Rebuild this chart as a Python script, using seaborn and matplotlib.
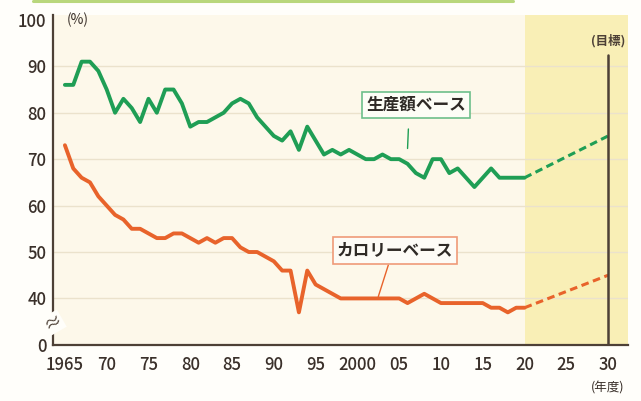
import numpy as np
import pandas as pd
import seaborn as sns
import matplotlib.pyplot as plt

# data (food self-sufficiency ratio, %)
years = list(range(1965, 2021))
calorie = [73, 68, 66, 65, 62, 60, 58, 57, 55, 55,
           54, 53, 53, 54, 54, 53, 52, 53, 52, 53,
           53, 51, 50, 50, 49, 48, 46, 46, 37, 46,
           43, 42, 41, 40, 40, 40, 40, 40, 40, 40,
           40, 39, 40, 41, 40, 39, 39, 39, 39, 39,
           39, 38, 38, 37, 38, 38]
production = [86, 86, 91, 91, 89, 85, 80, 83, 81, 78,
              83, 80, 85, 85, 82, 77, 78, 78, 79, 80,
              82, 83, 82, 79, 77, 75, 74, 76, 72, 77,
              74, 71, 72, 71, 72, 71, 70, 70, 71, 70,
              70, 69, 67, 66, 70, 70, 67, 68, 66, 64,
              66, 68, 66, 66, 66, 66]
target_years = [2020, 2030]
calorie_target = [38, 45]
production_target = [66, 75]
xtick_years = [1965, 1970, 1975, 1980, 1985, 1990, 1995, 2000, 2005, 2010, 2015, 2020, 2025, 2030]
xtick_labels = ['1965', '70', '75', '80', '85', '90', '95', '2000', '05', '10', '15', '20', '25', '30']
ytick_vals = [30, 40, 50, 60, 70, 80, 90, 100]
ytick_labels = ['0', '40', '50', '60', '70', '80', '90', '100']

df = pd.DataFrame({'year': years, 'calorie': calorie, 'production': production})
tg = pd.DataFrame({'year': target_years, 'calorie': calorie_target, 'production': production_target})

sns.set_style('white')
plt.rcParams['font.family'] = ['Noto Sans CJK JP', 'DejaVu Sans']

green = '#1f9e55'
orange = '#e8632b'
dark = '#4d4036'
txt = '#3a302a'

fig = plt.figure(figsize=(6.41, 4.01), dpi=100)
fig.patch.set_facecolor('#fffefa')
# top frame edge (cut off in the source)
fig.add_artist(plt.Line2D([0.052, 0.80], [0.997, 0.997], color='#b9d77c', lw=2.2))

ax = fig.add_axes([0.083, 0.140, 0.897, 0.822])
ax.set_facecolor('#fdf8ea')

ax.axvspan(2020, 2032.4, color='#f9efb6', zorder=0, lw=0)
for v in ytick_vals[1:-1]:
    ax.axhline(v, color='#ebe2cc', lw=1, zorder=1)

sns.lineplot(data=df, x='year', y='production', color=green, lw=2.8, ax=ax, zorder=3)
sns.lineplot(data=df, x='year', y='calorie', color=orange, lw=2.8, ax=ax, zorder=3)
sns.lineplot(data=tg, x='year', y='production', color=green, lw=2.2, ls=(0, (2.5, 1.5)), ax=ax, zorder=3)
sns.lineplot(data=tg, x='year', y='calorie', color=orange, lw=2.2, ls=(0, (2.5, 1.5)), ax=ax, zorder=3)

ax.plot([2030, 2030], [30, 92.5], color=dark, lw=1.8, zorder=4)
ax.text(2030, 95.5, '(目標)', ha='center', va='center', fontsize=9, color=dark, fontweight='bold')

ax.set_xlim(1963.6, 2032.4)
ax.set_ylim(30, 101)
ax.set_xticks(xtick_years)
ax.set_xticklabels(xtick_labels)
ax.set_yticks(ytick_vals)
ax.set_yticklabels(ytick_labels)
ax.set_xlabel('')
ax.set_ylabel('')
for s in ['top', 'right']:
    ax.spines[s].set_visible(False)
for s in ['left', 'bottom']:
    ax.spines[s].set_color(dark)
    ax.spines[s].set_linewidth(1.6)
ax.tick_params(axis='x', direction='out', length=6, width=1.5, color=dark, labelsize=12, labelcolor=txt, pad=2)
ax.tick_params(axis='y', direction='inout', length=8, width=1.5, color=dark, labelsize=12, labelcolor=txt, pad=1)
for lab in ax.get_xticklabels() + ax.get_yticklabels():
    lab.set_fontweight('medium')

# axis break mark
ax.text(1963.6, 34.7, '≈', ha='center', va='center', fontsize=13, color=dark, rotation=30,
        bbox=dict(boxstyle='square,pad=0.05', fc='#fffefa', ec='none'), zorder=5, clip_on=False)

ax.text(1965.2, 100, '(%)', ha='left', va='center', fontsize=10, color=txt)
ax.annotate('(年度)', xy=(2030, 0), xycoords=('data', 'axes fraction'), xytext=(0, -31),
            textcoords='offset points', ha='center', va='center', fontsize=9, color=txt,
            annotation_clip=False)

# series labels
ax.plot([2006.1, 2006.0], [76.5, 72.3], color=green, lw=1, zorder=4)
ax.text(2007.0, 81.7, '生産額ベース', ha='center', va='center', fontsize=12, color='#2f2a26',
        fontweight='bold', bbox=dict(boxstyle='square,pad=0.25', fc='#fdfdf6', ec='#6dbf8a', lw=1.2), zorder=5)
ax.plot([2003.7, 2002.5], [47.2, 40.4], color=orange, lw=1, zorder=4)
ax.text(2004.5, 50.3, 'カロリーベース', ha='center', va='center', fontsize=12, color='#2f2a26',
        fontweight='bold', bbox=dict(boxstyle='square,pad=0.25', fc='#fdfbf6', ec='#ef9a78', lw=1.2), zorder=5)

fig.savefig('out.png', dpi=100)
